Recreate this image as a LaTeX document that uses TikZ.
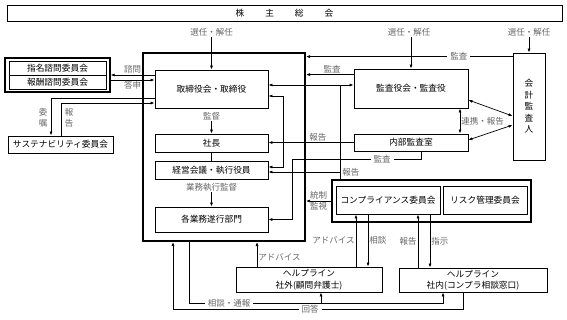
\documentclass[tikz,border=0pt]{standalone}
\usepackage{fontspec}
\setmainfont{Noto Sans CJK JP}
\usepackage{tikz}
\usetikzlibrary{positioning,calc,arrows.meta}

\begin{document}
\begin{tikzpicture}[x=1pt, y=-1pt, line width=0.7pt, >={Latex[length=4pt,width=3pt]},
  box/.style={draw, line width=0.8pt, inner sep=0pt, font=\fontsize{8.7}{11.5}\selectfont},
  frame/.style={draw, line width=1.3pt, inner sep=0pt},
  lbl/.style={inner sep=1pt, text=black!60, font=\fontsize{8.5}{11}\selectfont},
  gap/.style={lbl, fill=white, inner xsep=3pt}]
  \useasboundingbox (0,0) rectangle (567,319);

  % General meeting
  \node[box, minimum width=555, minimum height=16] (soukai) at (284.5,13) {株\hspace{21pt}主\hspace{21pt}総\hspace{21pt}会};
  \node[lbl] (sel1) at (211.5,32) {選任・解任};
  \node[lbl] (sel2) at (409,32) {選任・解任};
  \node[lbl] (sel3) at (529,32) {選任・解任};

  % Executive block
  \node[draw, line width=2pt, minimum width=162, minimum height=188] (exec) at (224,147) {};
  \node[box, minimum width=113, minimum height=38] (board) at (211.5,89) {取締役会・取締役};
  \node[box, minimum width=113, minimum height=18] (shacho) at (211.5,143) {社長};
  \node[box, minimum width=113, minimum height=18] (keiei) at (211.5,170) {経営会議・執行役員};
  \node[box, minimum width=113, minimum height=25] (gyomu) at (211.5,219.5) {各業務遂行部門};
  \node[lbl] (kantoku) at (211.5,116) {監督};
  \node[lbl] (shikko) at (211.5,187) {業務執行監督};

  % Advisory committees
  \node[frame, minimum width=105, minimum height=34] (advisory) at (57.5,75) {};
  \node[box, minimum width=97, minimum height=14] (shimei) at (57.5,68) {指名諮問委員会};
  \node[box, minimum width=97, minimum height=14] (hoshu) at (57.5,82) {報酬諮問委員会};
  \node[box, minimum width=105, minimum height=17] (sustain) at (60.5,144.5) {サステナビリティ委員会};

  % Audit side
  \node[box, minimum width=114, minimum height=39] (kansayaku) at (411,88.5) {監査役会・監査役};
  \node[box, minimum width=114, minimum height=17] (naibu) at (411,142.5) {内部監査室};
  \node[box, minimum width=32, minimum height=107, align=center] (kaikei) at (529,106.5) {会\\計\\監\\査\\人};

  % Compliance and risk
  \node[frame, minimum width=199, minimum height=42] (riskframe) at (431.5,201) {};
  \node[box, minimum width=104, minimum height=28] (compliance) at (388,200) {コンプライアンス委員会};
  \node[box, minimum width=84, minimum height=28] (risk) at (485,200) {リスク管理委員会};

  % Helplines
  \node[box, minimum width=146, minimum height=25, align=center] (helpout) at (309,279.5) {ヘルプライン\\社外(顧問弁護士)};
  \node[box, minimum width=148, minimum height=24, align=center] (helpin) at (473,280) {ヘルプライン\\社内(コンプラ相談窓口)};

  % Appointment
  \draw[->] (sel1) -- (board);
  \draw[->] (sel2.south -| kansayaku.north) -- (kansayaku.north);
  \draw[->] (sel3) -- (kaikei);

  % Inside the executive block
  \draw[->] (kantoku) -- (shacho);
  \draw (shacho) -- (keiei);
  \draw[->] (shikko) -- (gyomu);

  % Board and committees
  \draw[->] ([yshift=14pt]board.west) -- ([yshift=14pt]board.west -| advisory.east) node[lbl, midway, above] {諮問};
  \draw[->] ([yshift=-5pt]advisory.east) -- ([yshift=-5pt]advisory.east -| board.west) node[lbl, midway, below] {答申};
  \draw[->] ([yshift=-9pt]board.west) -| ([xshift=-9.5pt]sustain.north);
  \draw[->] ([xshift=0.5pt]sustain.north) |- ([yshift=-14pt]board.west);
  \node[lbl, align=center] at (43,118) {委\\嘱};
  \node[lbl, align=center] at (69,118) {報\\告};

  % Audit lines
  \draw[->] ([yshift=-4pt]kaikei.north west) -- ([yshift=-4pt]kaikei.north west -| exec.east) node[gap, pos=0.26] {監査};
  \draw[->] ([yshift=-6pt]kansayaku.north west) -- ([yshift=-6pt]kansayaku.north west -| exec.east) node[lbl, pos=0.45, above] {監査};
  \draw[<->] ([xshift=49pt]kansayaku.south) -- ([xshift=49pt]naibu.north) node[lbl, midway, right] {連携・報告};
  \draw[<->] ([yshift=-11.5pt]kansayaku.east) -- ([yshift=-9.5pt]kaikei.west);
  \draw[<->] ([yshift=2.5pt]naibu.east) -- ([yshift=-18.5pt]kaikei.west);

  % Reports from the committees
  \coordinate (rep) at (340,85);
  \coordinate (repk) at (340,172);
  \draw (riskframe.north -| rep) -- (rep);
  \draw[->] (rep) -- (rep -| board.east);
  \draw[->] (rep) -- (rep -| kansayaku.west);
  \draw[->] (repk) -- (repk -| keiei.east);
  \node[lbl, anchor=west] at ([xshift=1pt]repk) {報告};

  % Internal audit
  \draw[->] (naibu.west) -- (naibu.west -| shacho.east) node[lbl, pos=0.42, above] {報告};
  \coordinate (jt) at (283,96);
  \coordinate (jk) at (283,167);
  \draw[<->] (jt -| board.east) -- (jt) -- (jk) -- (jk -| keiei.east);
  \coordinate (ka) at (292,159);
  \draw[->] ([xshift=10pt]naibu.south) |- (ka) |- (gyomu.east);
  \node[gap] at (382,159) {監査};

  % Control
  \draw[->] (riskframe.west) -- (riskframe.west -| exec.east) node[lbl, midway, above] {統制} node[lbl, midway, below] {監視};

  % Helplines and compliance
  \draw[->] ([xshift=47pt]helpout.north) -- ([xshift=47pt]helpout.north |- compliance.south) node[lbl, midway, left] {アドバイス};
  \draw[->] ([xshift=59pt]helpout.north |- compliance.south) -- ([xshift=59pt]helpout.north) node[lbl, midway, right] {相談};
  \draw[->] ([xshift=-55pt]helpin.north) -- ([xshift=-55pt]helpin.north |- compliance.south) node[lbl, midway, left] {報告};
  \draw[->] ([xshift=-43pt]helpin.north |- compliance.south) -- ([xshift=-43pt]helpin.north) node[lbl, midway, right] {指示};
  \draw[->] ([xshift=-52pt]helpout.north) -- ([xshift=-52pt]helpout.north |- exec.south) node[lbl, pos=0.4, right] {アドバイス};

  % Consultation and answer
  \coordinate (sd) at (189,303);
  \draw[->] (sd |- exec.south) -- (sd) -| ([xshift=-30pt]helpin.south);
  \draw[->] ([xshift=12pt]helpout.south |- sd) -- ([xshift=12pt]helpout.south);
  \node[gap] at (229,303) {相談・通報};
  \coordinate (ans) at (173,309);
  \draw[->] ([xshift=-10pt]helpin.south) |- (ans) -- (ans |- exec.south);
  \node[gap] at (310,309) {回答};
\end{tikzpicture}
\end{document}
